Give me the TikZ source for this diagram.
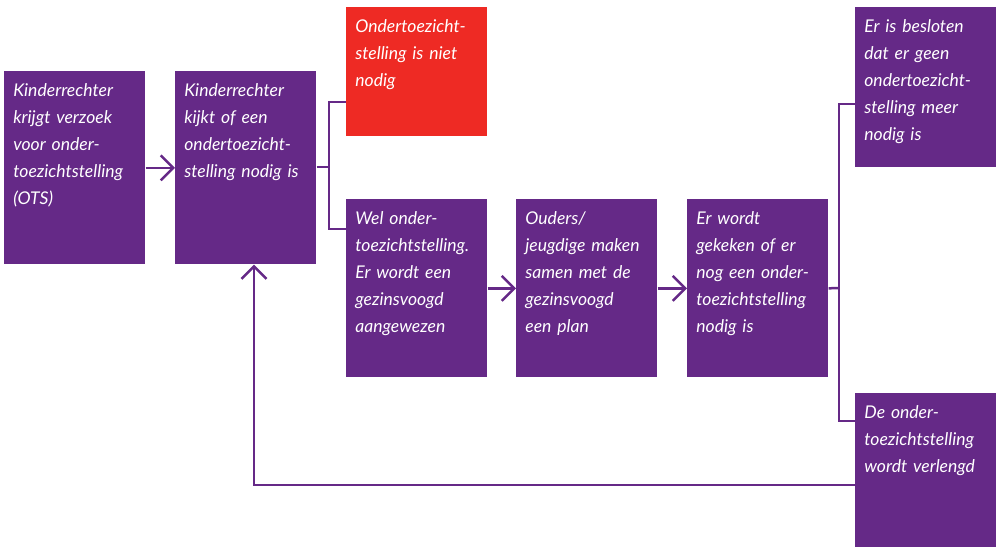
\documentclass[tikz,border=0pt]{standalone}
\usepackage{fontspec}
\setmainfont{Lato}
\usetikzlibrary{arrows.meta}

\definecolor{otsviolet}{RGB}{101,41,135}
\definecolor{otsred}{RGB}{238,42,36}

\newcommand\otsfont{\fontsize{10}{15.4}\selectfont\itshape
  \spaceskip=0.24em plus 0.1em minus 0.05em\relax}

\tikzset{
  stepbox/.style={fill=otsviolet, text=white, anchor=north west, align=left,
    text width=2.46cm, inner xsep=0.18cm, inner ysep=0pt, text height=0.5cm,
    font=\otsfont},
  line/.style={draw=otsviolet, line width=0.05cm},
  arrow/.style={line, -{Straight Barb[length=0.25cm,width=0.5cm]}}
}

\begin{document}
\begin{tikzpicture}[x=0.02cm,y=-0.02cm]
    \useasboundingbox (0,0) rectangle (1000,547);

    % draw boxes
    \node[stepbox, text depth=3.36cm] (request) at (4,71)
      {Kinderrechter\\krijgt verzoek\\voor onder-\\toezichtstelling\\(OTS)};
    \node[stepbox, text depth=3.36cm] (judge) at (175,71)
      {Kinderrechter\\kijkt of een\\ondertoezicht-\\stelling nodig is};
    \node[stepbox, fill=otsred, text depth=2.08cm] (notneeded) at (346,7)
      {Ondertoezicht-\\stelling is niet\\nodig};
    \node[stepbox, text depth=3.06cm] (appointed) at (346,199)
      {Wel onder-\\toezichtstelling.\\Er wordt een\\gezinsvoogd\\aangewezen};
    \node[stepbox, text depth=3.06cm] (plan) at (516,199)
      {Ouders/\\jeugdige maken\\samen met de\\gezinsvoogd\\een plan};
    \node[stepbox, text depth=3.06cm] (review) at (687,199)
      {Er wordt\\gekeken of er\\nog een onder-\\toezichtstelling\\nodig is};
    \node[stepbox, text depth=2.7cm] (ended) at (855,7)
      {Er is besloten\\dat er geen\\ondertoezicht-\\stelling meer\\nodig is};
    \node[stepbox, text depth=2.58cm] (extended) at (855,393)
      {De onder-\\toezichtstelling\\wordt verlengd};

    % draw arrows
    \draw[arrow] (request.east) -- (judge.west);
    \draw[arrow] (appointed.east) -- (plan.west);
    \draw[arrow] (plan.east) -- (review.west);

    % draw first fork
    \coordinate (fork1) at (329,167);
    \draw[line] (judge.east |- fork1) -- (fork1);
    \draw[line] (notneeded.west |- 0,102) -| (fork1 |- 0,229) -- (appointed.west |- 0,229);

    % draw second fork
    \coordinate (fork2) at (839,288);
    \draw[line] (review.east) -- (fork2);
    \draw[line] (ended.west |- 0,104) -| (fork2 |- 0,421) -- (extended.west |- 0,421);

    % draw way back
    \draw[arrow] (extended.west |- 0,485) -| (judge.south -| 254,0);
  \end{tikzpicture}
\end{document}
